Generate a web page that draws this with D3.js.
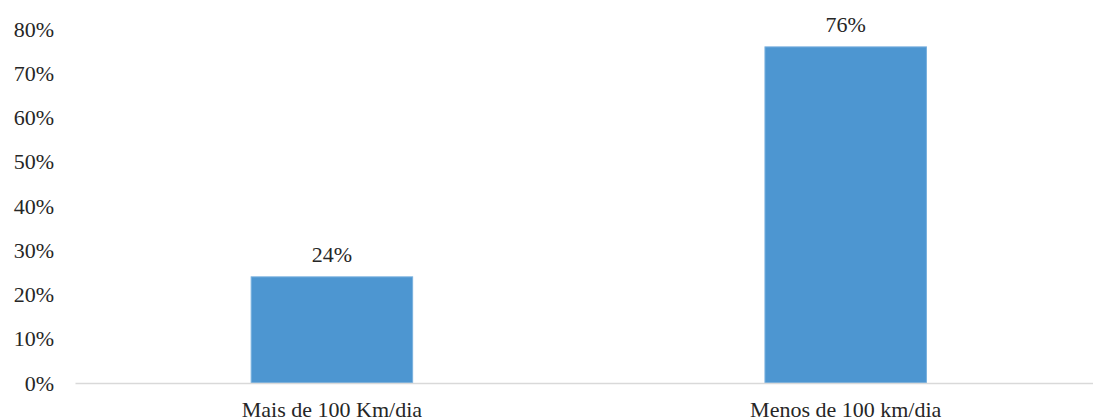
<!DOCTYPE html>
<html>
<head>
<meta charset="utf-8">
<script src="https://cdn.jsdelivr.net/npm/d3@7"></script>
<style>
  html, body { margin: 0; padding: 0; background: #fff; }
  svg { display: block; }
  text { font-family: "Liberation Serif", "Times New Roman", serif; fill: #262626; }
</style>
</head>
<body>
<svg id="chart" width="1093" height="419"></svg>
<script>
// Share of trips by daily distance
const categories = ["Mais de 100 Km/dia", "Menos de 100 km/dia"];
const values = [0.24, 0.76];
const yTicks = [0, 0.1, 0.2, 0.3, 0.4, 0.5, 0.6, 0.7, 0.8];

const FONT = "Liberation Serif, Times New Roman, serif";
const FS = 22;
const svg = d3.select("#chart");

const x = d3.scaleBand()
  .domain(categories)
  .range([75, 1102.6])
  .paddingInner(0.6857)
  .paddingOuter(0.6857 / 2);

const y = d3.scaleLinear()
  .domain([0, 0.8])
  .range([383, 29.2]);

const pct = d3.format(".0%");

// Y axis labels (no axis line, no ticks)
const yAxis = d3.axisLeft(y)
  .tickValues(yTicks)
  .tickFormat(pct)
  .tickSize(0)
  .tickPadding(0);

svg.append("g")
  .attr("transform", "translate(54,0)")
  .call(yAxis)
  .call(g => g.select(".domain").remove())
  .call(g => g.selectAll("text")
    .attr("font-family", FONT)
    .attr("font-size", FS)
    .attr("fill", "#262626"));

// Bars
svg.append("g")
  .selectAll("rect")
  .data(values)
  .join("rect")
  .attr("x", (d, i) => x(categories[i]))
  .attr("y", d => y(d))
  .attr("width", x.bandwidth())
  .attr("height", d => y(0) - y(d))
  .attr("fill", "#4d96d1")
  .attr("stroke", "#78b0de")
  .attr("stroke-width", 1);

// X axis baseline and category labels
const xAxis = d3.axisBottom(x).tickSize(0).tickPadding(0);
svg.append("g")
  .attr("transform", `translate(0,${y(0)})`)
  .call(xAxis)
  .call(g => g.select(".domain")
    .attr("stroke", "#d9d9d9")
    .attr("stroke-width", 1.5))
  .call(g => g.selectAll("text")
    .attr("font-family", FONT)
    .attr("font-size", FS)
    .attr("fill", "#262626")
    .attr("dy", null)
    .attr("y", 33.5));

// Value labels above bars
svg.append("g")
  .selectAll("text")
  .data(values)
  .join("text")
  .attr("x", (d, i) => x(categories[i]) + x.bandwidth() / 2)
  .attr("y", d => y(d) - 15)
  .attr("text-anchor", "middle")
  .attr("font-family", FONT)
  .attr("font-size", FS)
  .text(d => pct(d));
</script>
</body>
</html>
